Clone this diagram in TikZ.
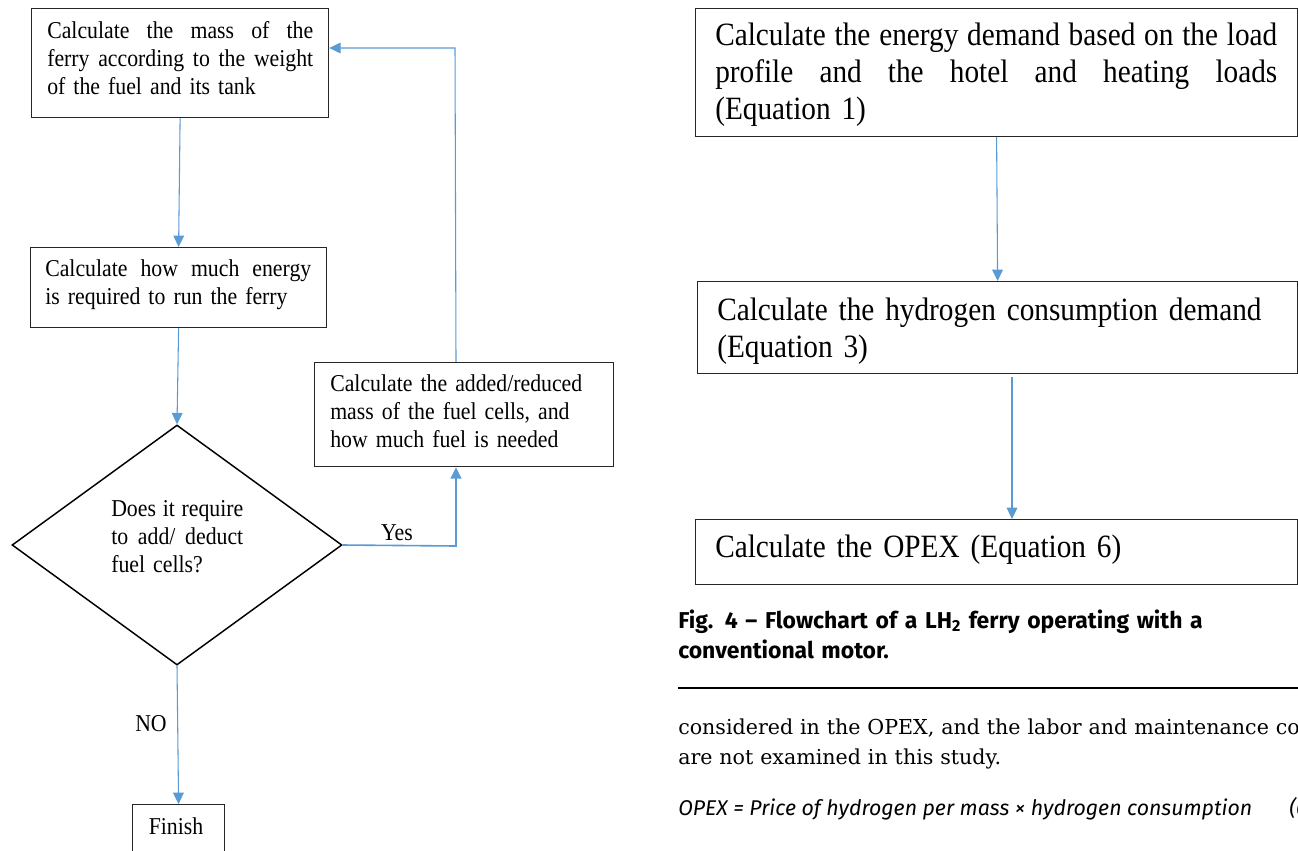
\documentclass[tikz,border=0pt]{standalone}
\usepackage{fontspec}
\setmainfont{Liberation Serif}
\newfontfamily\tnr[FakeStretch=0.9,WordSpace=0.85]{Liberation Serif}
\newfontfamily\capfont{Fira Sans}
\newfontfamily\bodyfont{DejaVu Serif}
\usetikzlibrary{arrows.meta,shapes.geometric}
\definecolor{arrblue}{RGB}{91,155,213}
\newcommand{\jline}[2]{\leavevmode\hbox to #1{#2}}
\begin{document}
\begin{tikzpicture}[x=0.75pt,y=-0.75pt,
  box/.style={draw=black!85, line width=0.9pt, inner sep=0pt, anchor=north west},
  arr/.style={draw=arrblue, line width=0.8pt, -{Triangle[length=8.5pt,width=8pt]}},
  ltxt/.style={anchor=base west, inner sep=0pt, align=left, font=\tnr\fontsize{18.15}{21}\selectfont},
  rtxt/.style={anchor=base west, inner sep=0pt, align=left, font=\tnr\fontsize{24.4}{27.75}\selectfont},
  lbl/.style={anchor=base, inner sep=0pt, font=\tnr\fontsize{18.15}{21}\selectfont},
  captxt/.style={anchor=base west, inner sep=0pt, align=left, font=\capfont\bfseries\fontsize{17.2}{22.5}\selectfont},
  bodytxt/.style={anchor=base west, inner sep=0pt, align=left, font=\bodyfont\fontsize{15.45}{22.5}\selectfont},
  eqtxt/.style={anchor=base west, inner sep=0pt, font=\capfont\itshape\fontsize{16}{19}\selectfont},
]
\fill[white] (0,0) rectangle (1298,850);
\clip (0,0) rectangle (1298,850);

% ---------- left flowchart ----------
\node[box, minimum width=222.75pt, minimum height=81.75pt] (b1) at (31,8) {};
\node[ltxt, text width=199.5pt] (t1) at (47,38)
  {\jline{199.5pt}{Calculate\hfill the\hfill mass\hfill of\hfill the}\\
   \jline{199.5pt}{ferry\hfill according\hfill to\hfill the\hfill weight}\\
   of the fuel and its tank};

\node[box, minimum width=222pt, minimum height=60pt] (b2) at (30,247) {};
\node[ltxt, text width=199.5pt] (t2) at (45,276)
  {\jline{199.5pt}{Calculate\hfill how\hfill much\hfill energy}\\
   is required to run the ferry};

\node[box, minimum width=224.25pt, minimum height=78pt] (b3) at (314,362) {};
\node[ltxt, text width=210pt] (t3) at (330,391)
  {Calculate the added/reduced\\
   mass of the fuel cells, and\\
   how much fuel is needed};

\node[diamond, draw=black, line width=1.1pt, inner sep=0pt,
      minimum width=247.5pt, minimum height=180pt] (dia) at (177,545) {};
\node[ltxt, text width=99pt] (td) at (111,516)
  {\jline{99pt}{Does\hfill it\hfill require}\\
   \jline{99pt}{to\hfill add/\hfill deduct}\\
   fuel cells?};

\node[box, minimum width=69pt, minimum height=45pt] (fin) at (132,804) {};
\node[lbl] (tf) at (176,834) {Finish};

\node[lbl] (no) at (151,731) {NO};
\node[lbl] (yes) at (397,540) {Yes};

\coordinate (yc) at (456,546);
\coordinate (tc) at (455,48);

\draw[arr] (b1.south) -- (b2.north);
\draw[arr] (b2.south) -- (dia.north);
\draw[arr] (dia.south) -- (fin.north);
\draw[arr, line width=1.2pt] (dia.east) -- (yc) -- (yc |- b3.south);
\draw[arr] (yc |- b3.north) -- (tc) -- (tc -| b1.east);

% ---------- right flowchart ----------
\node[box, minimum width=451.5pt, minimum height=96pt] (bA) at (695,8) {};
\node[rtxt, text width=421.5pt] (tA) at (715,45)
  {\jline{421.5pt}{Calculate\hfill the\hfill energy\hfill demand\hfill based\hfill on\hfill the\hfill load}\\
   \jline{421.5pt}{profile\hfill and\hfill the\hfill hotel\hfill and\hfill heating\hfill loads}\\
   (Equation 1)};

\node[box, minimum width=450pt, minimum height=69pt] (bB) at (697,281) {};
\node[rtxt, text width=430pt] (tB) at (717,320)
  {Calculate the hydrogen consumption demand\\
   (Equation 3)};

\node[box, minimum width=451.5pt, minimum height=48.75pt] (bC) at (695,519) {};
\node[rtxt, text width=430pt] (tC) at (715,557) {Calculate the OPEX (Equation 6)};

\coordinate (bc) at (1012,377);
\draw[arr] (bA.south) -- (bB.north);
\draw[arr] (bc) -- (bc |- bC.north);

% ---------- caption and text ----------
\node[captxt, text width=480pt] (cap) at (678,628)
  {Fig. 4 – Flowchart of a LH\textsubscript{2} ferry operating with a\\
   conventional motor.};
\draw[line width=1.1pt] (678,688) -- (1298,688);
\node[bodytxt, text width=600pt] (body) at (678,734)
  {considered in the OPEX, and the labor and maintenance costs\\
   are not examined in this study.};
\node[eqtxt] (eq) at (678,815) {OPEX = Price of hydrogen per mass × hydrogen consumption};
\node[eqtxt] (eqn) at (1289,815) {(6)};
\end{tikzpicture}
\end{document}
